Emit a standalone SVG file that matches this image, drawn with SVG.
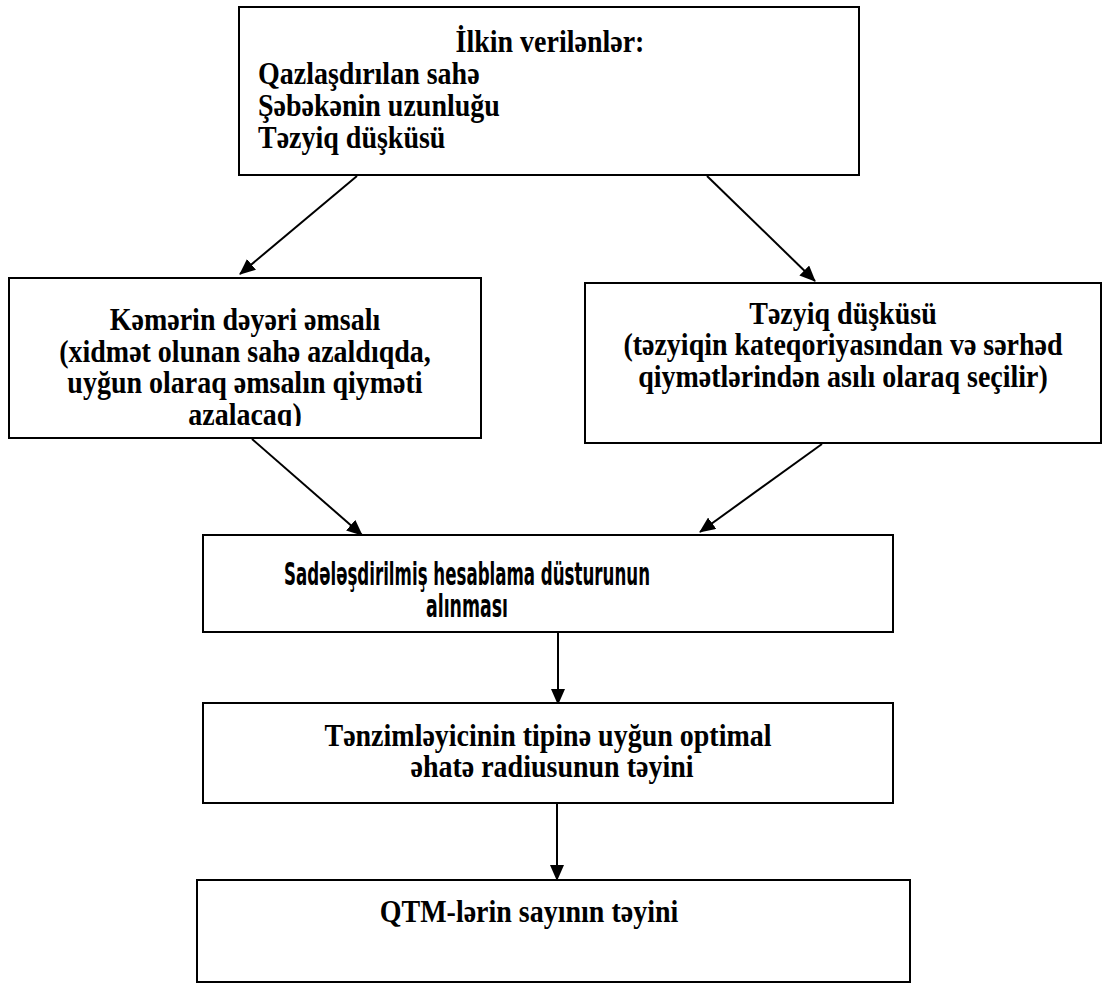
<svg xmlns="http://www.w3.org/2000/svg" width="1102" height="984" viewBox="0 0 1102 984">
<style>
.box{fill:#fff;stroke:#000;stroke-width:2}
.t{font-family:"Liberation Serif","Times New Roman",serif;font-weight:bold;font-size:28px;fill:#000}
.c{text-anchor:middle}
.s{font-family:"DejaVu Sans Condensed","DejaVu Sans",sans-serif;font-weight:bold;font-size:28px;fill:#000}
.ln{stroke:#000;stroke-width:2;fill:none;marker-end:url(#ah)}
</style>
<defs>
<marker id="ah" markerUnits="userSpaceOnUse" markerWidth="16" markerHeight="14" refX="15" refY="7" orient="auto">
<path d="M0,0 L16,7 L0,14 z" fill="#000"/>
</marker>
<clipPath id="clipL"><rect x="9" y="278" width="472" height="148"/></clipPath>
</defs>
<g id="connectors">
<line class="ln" x1="357" y1="176" x2="240" y2="274"/>
<line class="ln" x1="707" y1="176" x2="815" y2="281"/>
<line class="ln" x1="252" y1="439" x2="362" y2="535"/>
<line class="ln" x1="822" y1="444" x2="700" y2="532"/>
<line class="ln" x1="558" y1="624" x2="558" y2="704"/>
<line class="ln" x1="557" y1="801" x2="557" y2="880"/>
</g>
<g id="node-initial">
<rect class="box" x="239" y="7" width="620" height="168"/>
<text class="t c" x="550" y="52" transform="matrix(1,0,0,1.15,0,-7.8)">İlkin verilənlər:</text>
<text class="t" x="258" y="84" transform="matrix(1,0,0,1.15,0,-12.6)">Qazlaşdırılan sahə</text>
<text class="t" x="258" y="116" transform="matrix(1,0,0,1.15,0,-17.4)">Şəbəkənin uzunluğu</text>
<text class="t" x="258" y="148" transform="matrix(1,0,0,1.15,0,-22.2)">Təzyiq düşküsü</text>
</g>
<g id="node-coef">
<rect class="box" x="9" y="278" width="472" height="160"/>
<g clip-path="url(#clipL)">
<text class="t c" x="245" y="330" transform="matrix(1,0,0,1.15,0,-49.5)">Kəmərin dəyəri əmsalı</text>
<text class="t c" x="245" y="362" transform="matrix(1,0,0,1.15,0,-54.3)">(xidmət olunan sahə azaldıqda,</text>
<text class="t c" x="245" y="393" transform="matrix(1,0,0,1.15,0,-58.95)">uyğun olaraq əmsalın qiyməti</text>
<text class="t c" x="245" y="425" transform="matrix(1,0,0,1.15,0,-63.75)">azalacaq)</text>
</g>
</g>
<g id="node-pressure">
<rect class="box" x="585" y="283" width="516" height="160"/>
<text class="t c" x="843" y="324" transform="matrix(1,0,0,1.15,0,-48.6)">Təzyiq düşküsü</text>
<text class="t c" x="843" y="355" transform="matrix(1,0,0,1.15,0,-53.25)">(təzyiqin kateqoriyasından və sərhəd</text>
<text class="t c" x="843" y="387" transform="matrix(1,0,0,1.15,0,-58.05)">qiymətlərindən asılı olaraq seçilir)</text>
</g>
<g id="node-formula">
<rect class="box" x="203" y="535" width="690" height="97"/>
<text class="s" x="284" y="585" textLength="366" lengthAdjust="spacingAndGlyphs" transform="matrix(1,0,0,1.15,0,-87.75)">Sadələşdirilmiş hesablama düsturunun</text>
<text class="s" x="426" y="617" textLength="82" lengthAdjust="spacingAndGlyphs" transform="matrix(1,0,0,1.15,0,-92.55)">alınması</text>
</g>
<g id="node-radius">
<rect class="box" x="203" y="703" width="690" height="100"/>
<text class="t c" x="548" y="746" transform="matrix(1,0,0,1.15,0,-111.9)">Tənzimləyicinin tipinə uyğun optimal</text>
<text class="t c" x="552" y="777" transform="matrix(1,0,0,1.15,0,-116.55)">əhatə radiusunun təyini</text>
</g>
<g id="node-count">
<rect class="box" x="197" y="880" width="713" height="102"/>
<text class="t c" x="529" y="922" transform="matrix(1,0,0,1.15,0,-138.3)">QTM-lərin sayının təyini</text>
</g>
</svg>
